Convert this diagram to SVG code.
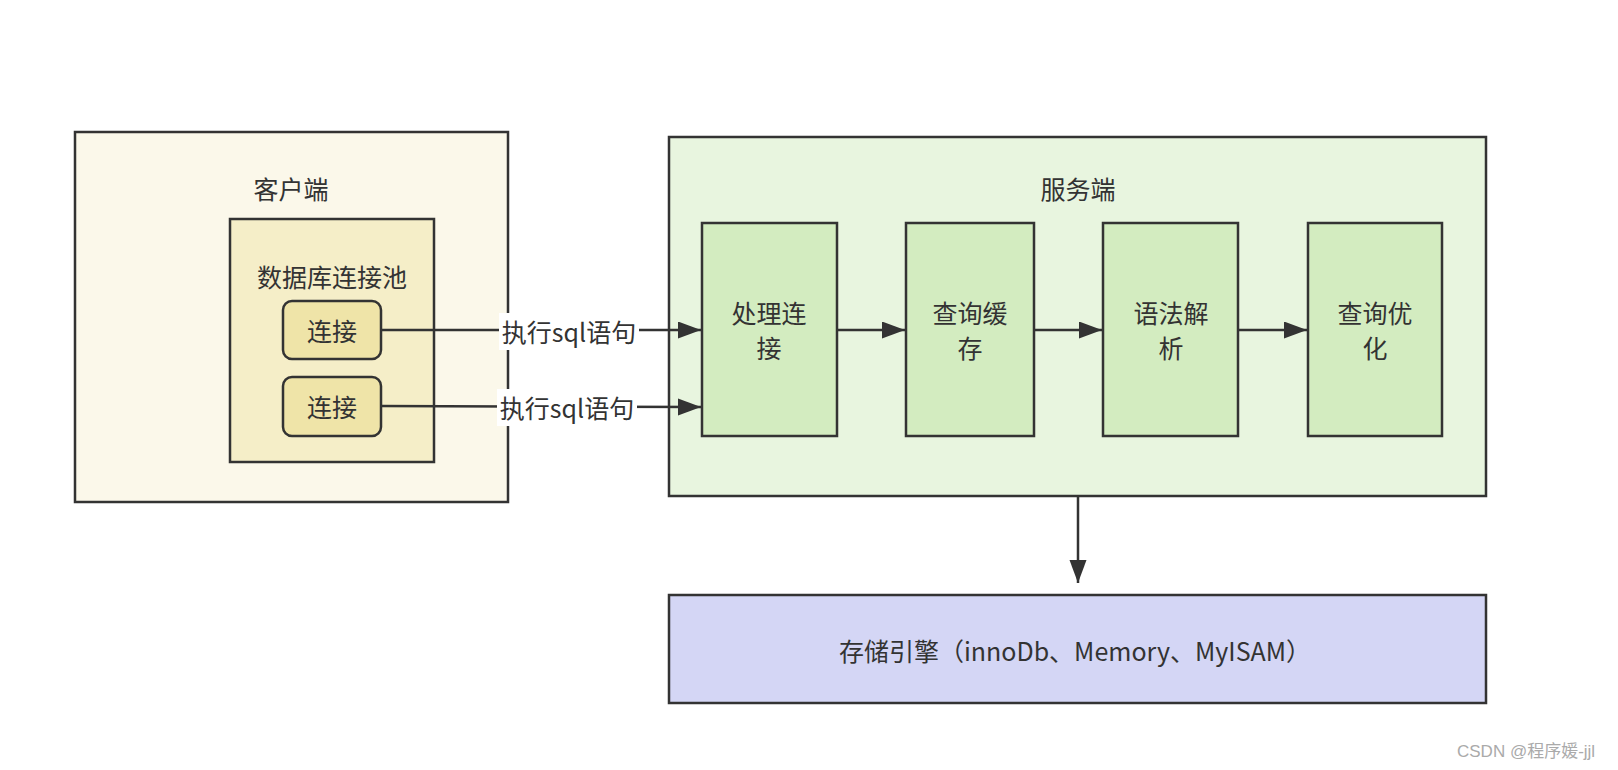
<svg xmlns="http://www.w3.org/2000/svg" width="1618" height="770" viewBox="0 0 1618 770">
<style>
text{font-family:"Noto Sans CJK SC","Liberation Sans",sans-serif;fill:#333;font-size:25px;text-anchor:middle;dominant-baseline:central}
.box{stroke:#333;stroke-width:2.5}
.ln{stroke:#333;stroke-width:2.5;fill:none}
.lbl{fill:#fff}
.wm{font-family:"Liberation Sans","Noto Sans CJK SC",sans-serif;font-size:17px;fill:#aaa;text-anchor:start}
</style>
<defs>
<marker id="ah" markerUnits="userSpaceOnUse" markerWidth="24" markerHeight="18" refX="23" refY="8.5" orient="auto">
<path d="M0,0 L23,8.5 L0,17 z" fill="#333"/>
</marker>
</defs>
<rect width="1618" height="770" fill="#fff"/>
<g id="client">
<rect class="box" x="75" y="132" width="433" height="370" fill="#fbf8ea"/>
<text x="291" y="188">客户端</text>
</g>
<g id="pool">
<rect class="box" x="230" y="219" width="204" height="243" fill="#f5eec8"/>
<text x="332" y="276">数据库连接池</text>
</g>
<g id="conn1">
<rect class="box" x="283" y="301" width="98" height="58" rx="9" fill="#efe4a8"/>
<text x="332" y="330">连接</text>
</g>
<g id="conn2">
<rect class="box" x="283" y="377" width="98" height="59" rx="9" fill="#efe4a8"/>
<text x="332" y="406">连接</text>
</g>
<g id="server">
<rect class="box" x="669" y="137" width="817" height="359" fill="#e8f5df"/>
<text x="1078" y="188">服务端</text>
</g>
<g id="handle">
<rect class="box" x="702" y="223" width="135" height="213" fill="#d3ecc0"/>
<text x="769" y="312">处理连</text>
<text x="769" y="347">接</text>
</g>
<g id="cache">
<rect class="box" x="906" y="223" width="128" height="213" fill="#d3ecc0"/>
<text x="970" y="312">查询缓</text>
<text x="970" y="347">存</text>
</g>
<g id="parse">
<rect class="box" x="1103" y="223" width="135" height="213" fill="#d3ecc0"/>
<text x="1171" y="312">语法解</text>
<text x="1171" y="347">析</text>
</g>
<g id="optimize">
<rect class="box" x="1308" y="223" width="134" height="213" fill="#d3ecc0"/>
<text x="1375" y="312">查询优</text>
<text x="1375" y="347">化</text>
</g>
<g id="storage">
<rect class="box" x="669" y="595" width="817" height="108" fill="#d4d6f5"/>
<text x="1075" y="650">存储引擎（innoDb、Memory、MyISAM）</text>
</g>
<g id="connectors">
<path class="ln" d="M381,330 L701,330" marker-end="url(#ah)"/>
<path class="ln" d="M381,406 L701,407" marker-end="url(#ah)"/>
<path class="ln" d="M837,330 L905,330" marker-end="url(#ah)"/>
<path class="ln" d="M1034,330 L1102,330" marker-end="url(#ah)"/>
<path class="ln" d="M1238,330 L1307,330" marker-end="url(#ah)"/>
<path class="ln" d="M1078,497 L1078,583" marker-end="url(#ah)"/>
<rect class="lbl" x="499" y="313" width="140" height="37"/>
<text x="569" y="331">执行sql语句</text>
<rect class="lbl" x="497" y="389" width="140" height="37"/>
<text x="567" y="407">执行sql语句</text>
</g>
<text class="wm" x="1457" y="751">CSDN @程序媛-jjl</text>
</svg>
